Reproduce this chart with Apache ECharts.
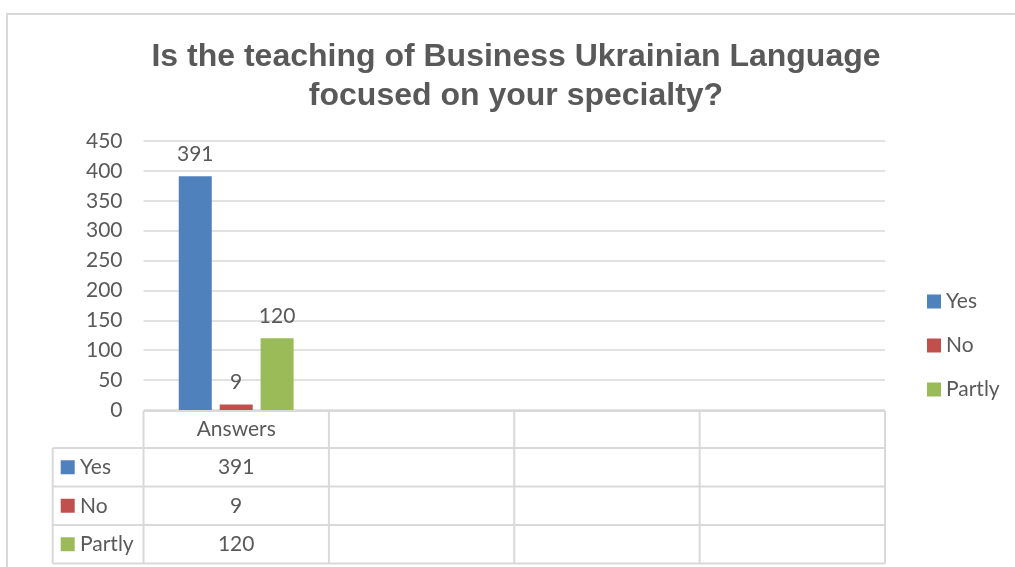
<!DOCTYPE html>
<html>
<head>
<meta charset="utf-8">
<script src="https://cdn.jsdelivr.net/npm/echarts@6/dist/echarts.min.js"></script>
<style>
  html, body { margin: 0; padding: 0; background: #ffffff; }
  #chart { width: 1015px; height: 567px; }
</style>
</head>
<body>
<div id="chart"></div>
<script>
// Survey answers, one column per category of the data table
const categories = ['Answers', '', '', ''];
const seriesNames = ['Yes', 'No', 'Partly'];
const yesValues = [391, null, null, null];
const noValues = [9, null, null, null];
const partlyValues = [120, null, null, null];
const yTicks = { min: 0, max: 450, interval: 50 };
const titleText = 'Is the teaching of Business Ukrainian Language\nfocused on your specialty?';

const seriesValues = [yesValues, noValues, partlyValues];
const colors = ['#4f81bd', '#c0504d', '#9bbb59'];
const textColor = '#595959';
const lineColor = '#d9d9d9';
const bodyFont = 'Lato, "Open Sans", sans-serif';

const chart = echarts.init(document.getElementById('chart'), null, { renderer: 'canvas' });

const option = {
  backgroundColor: '#ffffff',
  animation: false,
  color: colors,
  title: {
    text: titleText,
    left: 516,
    textAlign: 'center',
    top: 38,
    padding: 0,
    textStyle: {
      fontFamily: '"Liberation Sans", Arial, sans-serif',
      fontWeight: 'bold',
      fontSize: 32,
      lineHeight: 39,
      color: textColor
    }
  },
  legend: {
    orient: 'vertical',
    left: 927,
    top: 291,
    padding: 0,
    itemWidth: 14,
    itemHeight: 14,
    itemGap: 23,
    icon: 'rect',
    data: seriesNames,
    textStyle: { fontFamily: bodyFont, fontSize: 21, lineHeight: 21, color: textColor }
  },
  grid: { left: 143.5, right: 130, top: 141, bottom: 157, containLabel: false },
  xAxis: {
    type: 'category',
    data: categories,
    axisLine: { show: false },
    axisTick: { show: false },
    axisLabel: { show: false }
  },
  yAxis: {
    type: 'value',
    min: yTicks.min,
    max: yTicks.max,
    interval: yTicks.interval,
    axisLine: { show: false },
    axisTick: { show: false },
    axisLabel: { margin: 21, fontFamily: bodyFont, fontSize: 21, color: textColor },
    splitLine: { lineStyle: { color: lineColor, width: 1.5 } }
  },
  series: seriesNames.map((name, i) => ({
    name: name,
    type: 'bar',
    data: seriesValues[i],
    barWidth: 33,
    barGap: '24%',
    itemStyle: { color: colors[i] },
    label: {
      show: true,
      position: 'top',
      distance: 12,
      fontFamily: bodyFont,
      fontSize: 21,
      color: textColor
    }
  }))
};

chart.setOption(option);

// Data table under the plot, laid out on the category axis
function buildTable() {
  const c0 = chart.convertToPixel({ xAxisIndex: 0 }, 0);
  const c1 = chart.convertToPixel({ xAxisIndex: 0 }, 1);
  const band = c1 - c0;
  const yTop = chart.convertToPixel({ yAxisIndex: 0 }, 0) + 1;
  const rowHeights = [37, 38.5, 38.5, 38.5];
  const rowTops = [yTop];
  rowHeights.forEach(h => rowTops.push(rowTops[rowTops.length - 1] + h));
  const tableLeft = c0 - band / 2;
  const tableRight = tableLeft + band * categories.length;
  const headerLeft = 52.7;
  const elements = [];
  const lineStyle = { stroke: lineColor, lineWidth: 2 };

  // horizontal rules
  rowTops.forEach((y, r) => {
    elements.push({
      type: 'line', silent: true,
      shape: { x1: r === 0 ? tableLeft : headerLeft, y1: y, x2: tableRight, y2: y },
      style: lineStyle
    });
  });
  // vertical rules at column boundaries
  for (let k = 0; k <= categories.length; k++) {
    const x = tableLeft + band * k;
    elements.push({
      type: 'line', silent: true,
      shape: { x1: x, y1: rowTops[0], x2: x, y2: rowTops[rowTops.length - 1] },
      style: lineStyle
    });
  }
  elements.push({
    type: 'line', silent: true,
    shape: { x1: headerLeft, y1: rowTops[1], x2: headerLeft, y2: rowTops[rowTops.length - 1] },
    style: lineStyle
  });

  const textBase = { fontFamily: bodyFont, fontSize: 21, fill: textColor, verticalAlign: 'middle' };
  // header row with category names
  categories.forEach((cat, k) => {
    elements.push({
      type: 'text', silent: true,
      x: chart.convertToPixel({ xAxisIndex: 0 }, k),
      y: (rowTops[0] + rowTops[1]) / 2,
      style: Object.assign({ text: cat, align: 'center' }, textBase)
    });
  });
  // one row per series: legend key, name, values
  seriesNames.forEach((name, s) => {
    const yMid = (rowTops[s + 1] + rowTops[s + 2]) / 2;
    elements.push({
      type: 'rect', silent: true,
      shape: { x: 60.7, y: yMid - 7, width: 14, height: 14 },
      style: { fill: colors[s] }
    });
    elements.push({
      type: 'text', silent: true,
      x: 80, y: yMid,
      style: Object.assign({ text: name, align: 'left' }, textBase)
    });
    seriesValues[s].forEach((v, k) => {
      if (v === null || v === undefined) return;
      elements.push({
        type: 'text', silent: true,
        x: chart.convertToPixel({ xAxisIndex: 0 }, k),
        y: yMid,
        style: Object.assign({ text: String(v), align: 'center' }, textBase)
      });
    });
  });

  // chart frame
  elements.push({
    type: 'rect', silent: true,
    shape: { x: 7, y: 14, width: 1100, height: 700 },
    style: { fill: 'none', stroke: lineColor, lineWidth: 2 }
  });

  chart.setOption({ graphic: { elements: elements } });
}

buildTable();
</script>
</body>
</html>
